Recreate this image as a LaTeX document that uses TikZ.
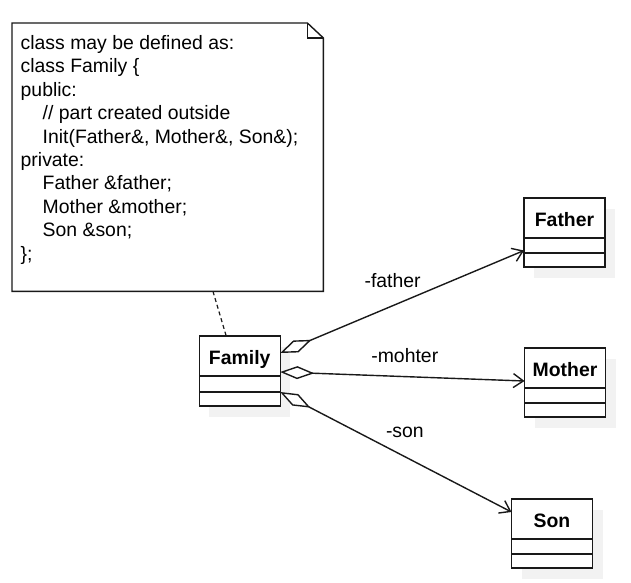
\documentclass[tikz,border=0pt]{standalone}
\usepackage{fontspec}
\setmainfont{Liberation Sans}
\usetikzlibrary{positioning,calc,arrows.meta,shadows}

\tikzset{
  every node/.style={font=\fontsize{19.4}{23.4}\selectfont},
  umlline/.style={line width=1.4pt, draw=black!90},
  classname/.style={umlline, draw, fill=white, outer sep=0pt, inner sep=0pt,
    minimum width=81pt, minimum height=40pt, text height=17pt, text depth=1pt,
    font=\fontsize{19.4}{23.4}\selectfont\bfseries,
    drop shadow={shadow xshift=10pt, shadow yshift=-11pt, fill=black!5, opacity=1}},
  classpart/.style={umlline, draw, fill=white, outer sep=0pt, inner sep=0pt,
    minimum width=81pt, minimum height=#1,
    drop shadow={shadow xshift=10pt, shadow yshift=-11pt, fill=black!5, opacity=1}},
  classpart/.default=15pt,
  aggr/.style={umlline, {Diamond[open, fill=white, length=34pt, width=13pt]}-{Straight Barb[length=10pt, width=14pt]}},
  rolelabel/.style={text height=14pt, text depth=0pt, inner sep=0pt},
}

\begin{document}
\begin{tikzpicture}[x=1pt, y=-1pt]
\useasboundingbox (0,0) rectangle (631,582);

% note with folded corner
\node[minimum width=311pt, minimum height=268pt, anchor=north west, inner sep=0pt] (note) at (12,23) {};
\draw[umlline, fill=white] (note.north west) -- ($(note.north east)+(-16,0)$) -- ($(note.north east)+(0,15)$)
  -- (note.south east) -- (note.south west) -- cycle;
\draw[umlline] ($(note.north east)+(-16,0)$) |- ($(note.north east)+(0,15)$);
\node[anchor=north west, align=left, inner sep=0pt] (notetext) at ($(note.north west)+(8.5,12.2)$) {%
class may be defined as:\\
class Family \{\\
public:\\
\hspace*{22pt}// part created outside\\
\hspace*{22pt}Init(Father\&, Mother\&, Son\&);\\
private:\\
\hspace*{22pt}Father \&father;\\
\hspace*{22pt}Mother \&mother;\\
\hspace*{22pt}Son \&son;\\
\};};

% classes
\node[classname] (family) at (239.7,356) {Family};
\node[classpart=16pt, below=0pt of family] (familya) {};
\node[classpart=14pt, below=0pt of familya] (familyb) {};

\node[classname] (father) at (564.5,218) {Father};
\node[classpart, below=0pt of father] (fathera) {};
\node[classpart=14pt, below=0pt of fathera] (fatherb) {};

\node[classname] (mother) at (565,368) {Mother};
\node[classpart, below=0pt of mother] (mothera) {};
\node[classpart=14pt, below=0pt of mothera] (motherb) {};

\node[classname] (son) at (552,519) {Son};
\node[classpart, below=0pt of son] (sona) {};
\node[classpart=14pt, below=0pt of sona] (sonb) {};

% note anchor
\draw[umlline, line width=1.2pt, dash pattern=on 4pt off 3pt] ($(note.south west)+(201,0)$) -- ($(family.north west)+(27,0)$);

% aggregations
\draw[aggr] ($(family.east)+(0,-3)$) -- node[rolelabel, pos=.461, yshift=25pt] {-father} ($(fathera.west)+(0,5)$);
\draw[aggr] ($(family.east)+(0,16)$) -- node[rolelabel, pos=.51, yshift=21pt] {-mohter} ($(mother.west)+(0,13)$);
\draw[aggr] ($(family.east)+(0,36)$) -- node[rolelabel, pos=.539, yshift=25.7pt] {-son} ($(son.west)+(0,-7)$);
\end{tikzpicture}
\end{document}
